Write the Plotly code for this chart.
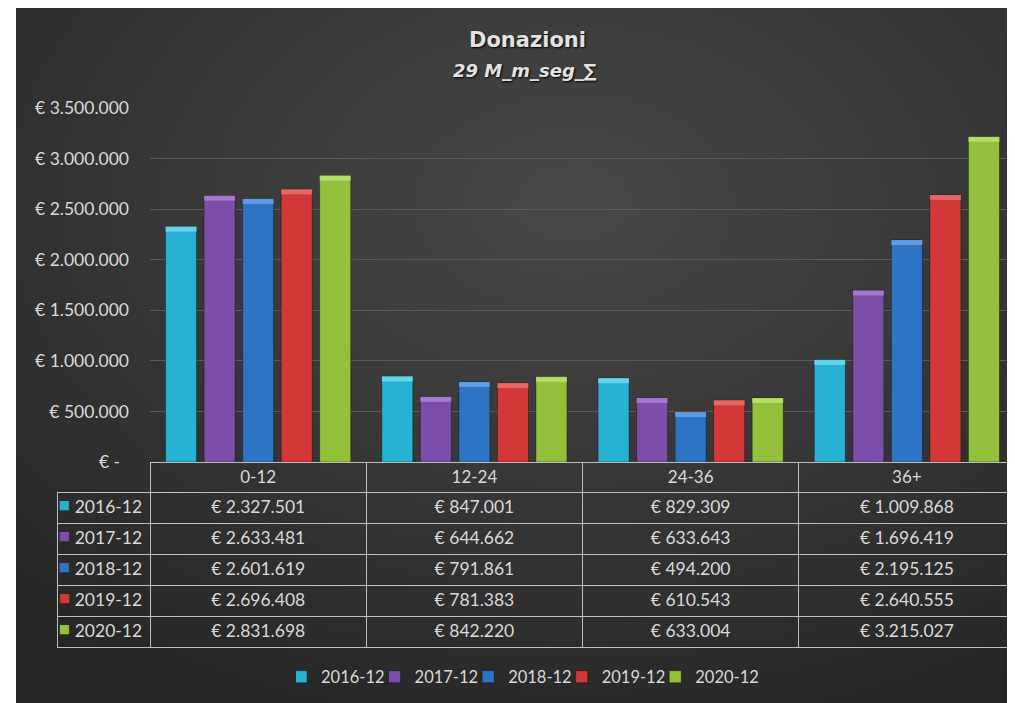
import base64
import plotly.graph_objects as go

categorie = ['0-12', '12-24', '24-36', '36+']
anni = ['2016-12', '2017-12', '2018-12', '2019-12', '2020-12']

v_2016 = [2327501, 847001, 829309, 1009868]
v_2017 = [2633481, 644662, 633643, 1696419]
v_2018 = [2601619, 791861, 494200, 2195125]
v_2019 = [2696408, 781383, 610543, 2640555]
v_2020 = [2831698, 842220, 633004, 3215027]

tick_vals = [0, 500000, 1000000, 1500000, 2000000, 2500000, 3000000, 3500000]
tick_text = ['€ -\u00a0\u00a0', '€ 500.000', '€ 1.000.000', '€ 1.500.000', '€ 2.000.000',
             '€ 2.500.000', '€ 3.000.000', '€ 3.500.000']

serie = [v_2016, v_2017, v_2018, v_2019, v_2020]
colori = ['#27b1d2', '#7d4daa', '#2d74c4', '#d23838', '#93c13b']
colori_top = ['#7fe3f5', '#b48be0', '#78aef0', '#f07b7b', '#c6e67a']

FONT = 'Lato'
TXT = '#d9d9d9'
W, H = 1007, 695   # la pagina ha 8px di margine
CAP = 50000        # altezza della smussatura in cima alle barre


def px(x):
    return (x - 57) / 958


def py(y):
    return (703 - y) / 695


def euro(v):
    return '€ ' + f'{v:,}'.replace(',', '.')


# sfondo grigio scuro con sfumatura radiale
svg = ('<svg xmlns="http://www.w3.org/2000/svg" width="1000" height="700" '
       'preserveAspectRatio="none"><defs><radialGradient id="g" cx="0.55" cy="0.28" r="0.8">'
       '<stop offset="0" stop-color="#484848"/><stop offset="1" stop-color="#262626"/>'
       '</radialGradient></defs><rect width="1000" height="700" fill="url(#g)"/></svg>')
sfondo = 'data:image/svg+xml;base64,' + base64.b64encode(svg.encode()).decode()

fig = go.Figure()

for i, (anno, valori, col) in enumerate(zip(anni, serie, colori)):
    fig.add_trace(go.Bar(
        x=categorie,
        y=valori,
        name=anno,
        offsetgroup=str(i),
        marker=dict(color=col, line=dict(width=1, color='rgba(0,0,0,0.35)')),
        hoverinfo='x+y+name'
    ))

for i, (valori, col) in enumerate(zip(serie, colori_top)):
    fig.add_trace(go.Bar(
        x=categorie,
        y=[CAP] * len(valori),
        base=[v - CAP for v in valori],
        offsetgroup=str(i),
        marker=dict(color=col, opacity=0.7, line=dict(width=0)),
        showlegend=False,
        hoverinfo='skip'
    ))

# tabella dati sotto il grafico
colonne = [anni] + [[euro(s[i]) for s in serie] for i in range(len(categorie))]
dom_y = [py(655), py(462)]

fig.add_trace(go.Table(
    domain=dict(x=[0, 1], y=dom_y),
    columnwidth=[93, 216, 216, 216, 216],
    header=dict(
        values=[''] + categorie,
        fill=dict(color='rgba(0,0,0,0)'),
        line=dict(color=['rgba(0,0,0,0)'] + ['#bfbfbf'] * 4, width=1),
        font=dict(family=FONT, size=17, color=TXT),
        align='center',
        height=30
    ),
    cells=dict(
        values=colonne,
        fill=dict(color='rgba(0,0,0,0)'),
        line=dict(color='#bfbfbf', width=1),
        font=dict(family=FONT, size=17.5, color=TXT),
        align=['right', 'center', 'center', 'center', 'center'],
        height=31
    )
))

# quadratini colorati della legenda nella tabella
fig.add_trace(go.Table(
    domain=dict(x=[px(57), px(78)], y=dom_y),
    header=dict(values=[''], fill=dict(color='rgba(0,0,0,0)'),
                line=dict(color='rgba(0,0,0,0)'), height=30),
    cells=dict(
        values=[['■'] * len(anni)],
        fill=dict(color='rgba(0,0,0,0)'),
        line=dict(color='rgba(0,0,0,0)'),
        font=dict(family='DejaVu Sans', size=12, color=[colori]),
        align='right',
        height=31
    )
))

fig.update_layout(
    width=W,
    height=H,
    autosize=False,
    margin=dict(l=49, r=0, t=0, b=0, autoexpand=False),
    paper_bgcolor='#262626',
    plot_bgcolor='rgba(0,0,0,0)',
    barmode='group',
    bargap=0.109,
    bargroupgap=0.195,
    font=dict(family=FONT, size=17, color=TXT),
    images=[dict(
        source=sfondo, xref='paper', yref='paper',
        x=px(16), y=py(8),
        sizex=px(1030) - px(16), sizey=py(8) - py(703),
        xanchor='left', yanchor='top', sizing='stretch', layer='below'
    )],
    shapes=[dict(
        type='rect', xref='paper', yref='paper',
        x0=px(0), x1=px(16), y0=0, y1=py(0),
        fillcolor='white', line=dict(width=0), layer='below'
    )],
    xaxis=dict(
        domain=[px(150), 1],
        showticklabels=False, showgrid=False, zeroline=False, showline=False
    ),
    yaxis=dict(
        domain=[py(462), py(108)],
        range=[0, 3500000],
        tickvals=tick_vals, ticktext=tick_text,
        tickfont=dict(family=FONT, size=17.5, color=TXT),
        ticklabelstandoff=20,
        showgrid=True, gridcolor='#5a5a5a', gridwidth=1,
        zeroline=False, showline=False
    ),
    annotations=[
        dict(text='<b>Donazioni</b>', xref='paper', yref='paper',
             x=px(527), y=py(40), xanchor='center', yanchor='middle', showarrow=False,
             font=dict(family='DejaVu Sans', size=21, color='#e2e2e2', shadow='1px 1px 2px #000')),
        dict(text='<b><i>29 M_m_seg_∑</i></b>', xref='paper', yref='paper',
             x=px(525), y=py(70), xanchor='center', yanchor='middle', showarrow=False,
             font=dict(family='DejaVu Sans', size=18, color='#e2e2e2', shadow='1px 1px 2px #000'))
    ],
    legend=dict(
        orientation='h',
        x=px(530), xanchor='center',
        y=py(677), yanchor='middle',
        font=dict(family=FONT, size=16.5, color=TXT),
        bgcolor='rgba(0,0,0,0)',
        itemwidth=30,
        indentation=-15
    )
)

fig.write_html('out.html', config={'responsive': False})
